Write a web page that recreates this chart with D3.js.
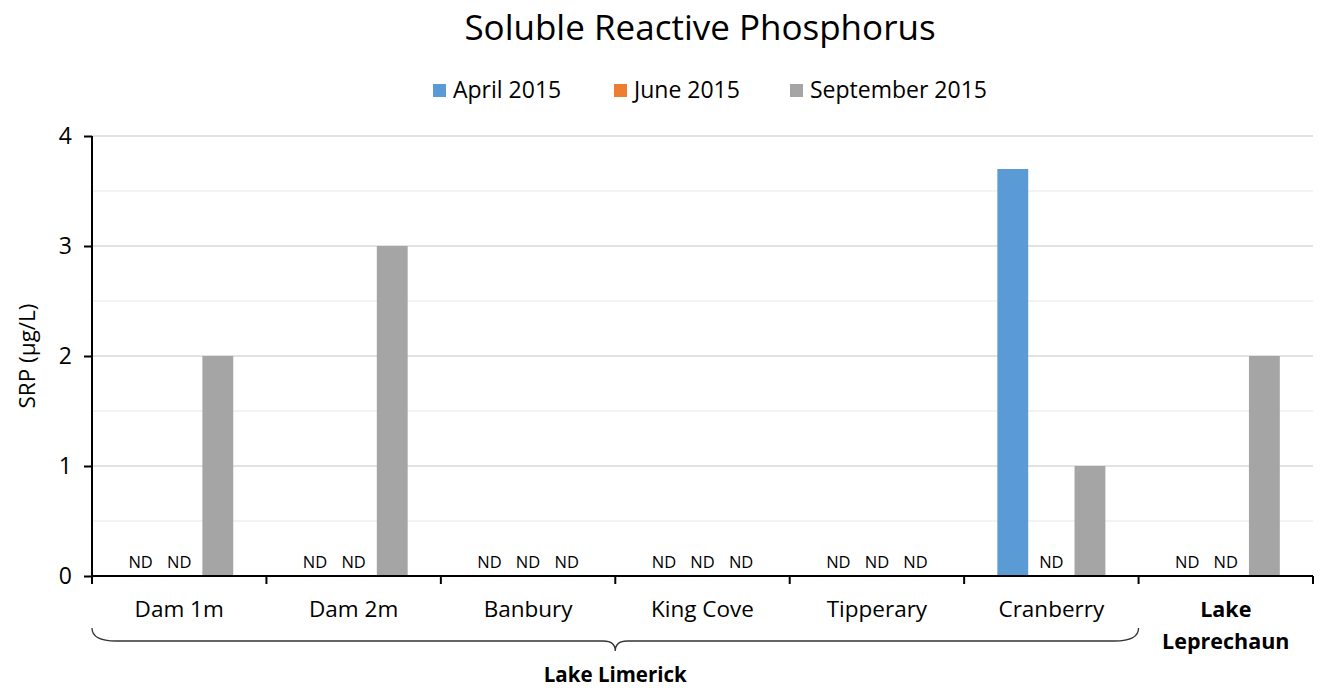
<!DOCTYPE html>
<html>
<head>
<meta charset="utf-8">
<script src="https://cdn.jsdelivr.net/npm/d3@7"></script>
<style>
  body { margin: 0; background: #fff; }
  svg { display: block; font-family: "Open Sans", "Liberation Sans", sans-serif; }
</style>
</head>
<body>
<svg id="chart" width="1325" height="688"></svg>
<script>
const categories = ["Dam 1m", "Dam 2m", "Banbury", "King Cove", "Tipperary", "Cranberry", "Lake Leprechaun"];
const seriesNames = ["April 2015", "June 2015", "September 2015"];
const april = [null, null, null, null, null, 3.7, null];
const june = [null, null, null, null, null, null, null];
const september = [2, 3, null, null, null, 1, 2];
const yTicks = [0, 1, 2, 3, 4];
const colors = ["#5b9bd5", "#ed7d31", "#a5a5a5"];
const groupLabel = "Lake Limerick";

const seriesValues = [april, june, september];
const svg = d3.select("#chart");
const margin = { left: 92, right: 12, top: 136, bottom: 112 };
const W = 1325, H = 688;
const plotW = W - margin.left - margin.right;
const plotH = H - margin.top - margin.bottom;

const g = svg.append("g").attr("transform", `translate(${margin.left},${margin.top})`);

const x0 = d3.scaleBand().domain(categories).range([0, plotW]).padding(0);
const x1 = d3.scaleBand().domain(seriesNames).range([0, x0.bandwidth()]).paddingInner(0.2).paddingOuter(0.86);
const y = d3.scaleLinear().domain([0, 4]).range([plotH, 0]);

// minor gridlines
g.append("g").selectAll("line").data(d3.range(0.5, 4, 1)).join("line")
  .attr("x1", 0).attr("x2", plotW).attr("y1", d => y(d)).attr("y2", d => y(d))
  .attr("stroke", "#efefef").attr("stroke-width", 1.5);
// major gridlines
g.append("g").selectAll("line").data(yTicks.slice(1)).join("line")
  .attr("x1", 0).attr("x2", plotW).attr("y1", d => y(d)).attr("y2", d => y(d))
  .attr("stroke", "#d9d9d9").attr("stroke-width", 1.5);

// bars and ND labels
const flat = [];
categories.forEach((c, i) => {
  seriesNames.forEach((s, j) => {
    flat.push({ cat: c, series: s, value: seriesValues[j][i], color: colors[j] });
  });
});
g.append("g").selectAll("rect").data(flat.filter(d => d.value != null)).join("rect")
  .attr("x", d => x0(d.cat) + x1(d.series))
  .attr("width", x1.bandwidth())
  .attr("y", d => y(d.value))
  .attr("height", d => y(0) - y(d.value))
  .attr("fill", d => d.color);
g.append("g").selectAll("text").data(flat.filter(d => d.value == null)).join("text")
  .attr("x", d => x0(d.cat) + x1(d.series) + x1.bandwidth() / 2)
  .attr("y", y(0) - 8)
  .attr("text-anchor", "middle")
  .attr("font-size", 16.5)
  .attr("fill", "#000")
  .text("ND");

// y axis
const yAxis = g.append("g").call(d3.axisLeft(y).tickValues(yTicks).tickSize(8).tickPadding(12).tickFormat(d3.format("d")));
yAxis.select(".domain").attr("stroke", "#000").attr("stroke-width", 2).attr("d", `M0,${plotH}V0`);
yAxis.selectAll(".tick line").attr("stroke", "#000").attr("stroke-width", 2);
yAxis.selectAll(".tick text").attr("font-size", 23).attr("fill", "#000").attr("font-family", "Open Sans");

// x axis
const edges = categories.map(c => x0(c)).concat([plotW]);
const xAxisG = g.append("g").attr("transform", `translate(0,${plotH})`);
xAxisG.append("line").attr("x1", 0).attr("x2", plotW).attr("stroke", "#000").attr("stroke-width", 2);
xAxisG.selectAll("line.tk").data(edges).join("line").attr("class", "tk")
  .attr("x1", d => d).attr("x2", d => d).attr("y1", 0).attr("y2", 8)
  .attr("stroke", "#000").attr("stroke-width", 2);
xAxisG.selectAll("text.cl").data(categories.slice(0, 6)).join("text").attr("class", "cl")
  .attr("x", d => x0(d) + x0.bandwidth() / 2).attr("y", 41)
  .attr("text-anchor", "middle").attr("font-size", 22.5).attr("fill", "#000")
  .text(d => d);
const last = categories[6];
const lastWords = last.split(" ");
const lastText = xAxisG.append("text")
  .attr("x", x0(last) + x0.bandwidth() / 2).attr("y", 41)
  .attr("text-anchor", "middle").attr("font-size", 21.5).attr("font-weight", "bold").attr("fill", "#000");
lastText.append("tspan").attr("x", x0(last) + x0.bandwidth() / 2).attr("dy", 0).text(lastWords[0]);
lastText.append("tspan").attr("x", x0(last) + x0.bandwidth() / 2).attr("dy", 32).text(lastWords.slice(1).join(" "));

// brace for Lake Limerick
const bx0 = x0(categories[0]), bx1 = x0(categories[5]) + x0.bandwidth();
const bmid = (bx0 + bx1) / 2;
const by = 65, r = 12;
const bracePath = `M${bx0},${by - 13} Q${bx0},${by} ${bx0 + r * 2},${by}` +
  ` L${bmid - r},${by} Q${bmid},${by} ${bmid},${by + 10}` +
  ` Q${bmid},${by} ${bmid + r},${by} L${bx1 - r * 2},${by} Q${bx1},${by} ${bx1},${by - 13}`;
xAxisG.append("path").attr("d", bracePath).attr("fill", "none").attr("stroke", "#333").attr("stroke-width", 1.3);
xAxisG.append("text").attr("x", bmid).attr("y", 106).attr("text-anchor", "middle")
  .attr("font-size", 20.5).attr("font-weight", "bold").attr("fill", "#000").text(groupLabel);

// y axis title
svg.append("text").attr("transform", `translate(35,${margin.top + plotH / 2}) rotate(-90)`)
  .attr("text-anchor", "middle").attr("font-size", 22.5).attr("fill", "#000").text("SRP (µg/L)");

// title
svg.append("text").attr("x", 700).attr("y", 40).attr("text-anchor", "middle")
  .attr("font-size", 35).attr("fill", "#000").text("Soluble Reactive Phosphorus");

// legend
const legendX = [433, 614, 790];
const leg = svg.append("g").selectAll("g").data(seriesNames).join("g")
  .attr("transform", (d, i) => `translate(${legendX[i]},84)`);
leg.append("rect").attr("width", 13).attr("height", 13).attr("fill", (d, i) => colors[i]);
leg.append("text").attr("x", 20).attr("y", 14).attr("font-size", 23).attr("fill", "#000").text(d => d);
</script>
</body>
</html>
